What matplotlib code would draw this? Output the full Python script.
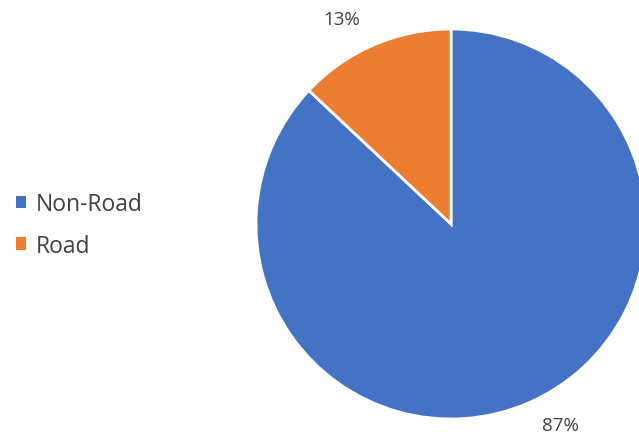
import matplotlib
matplotlib.use("Agg")
import matplotlib.pyplot as plt
from matplotlib.patches import Patch

categories = ["Non-Road", "Road"]
values = [87, 13]
colors = ["#4472C4", "#ED7D31"]
label_pos = [(0.559, -1.031), (-0.559, 1.051)]

plt.rcParams['font.family'] = ['Open Sans', 'DejaVu Sans']

W, H = 639, 435
fig = plt.figure(figsize=(W/100, H/100), dpi=100)
cx, cy, r = 451, 225, 195
ax = fig.add_axes([(cx - r)/W, (H - cy - r)/H, 2*r/W, 2*r/H])

wedges, texts, autotexts = ax.pie(values, colors=colors, startangle=90, counterclock=False,
                                  radius=1, autopct='%1.0f%%',
                                  wedgeprops=dict(edgecolor='white', linewidth=2),
                                  textprops=dict(color='#404040', fontsize=13.5))
ax.set_aspect('auto')
ax.set_xlim(-1, 1)
ax.set_ylim(-1, 1)
ax.axis('off')
for t, p in zip(autotexts, label_pos):
    t.set_position(p)
    t.set_ha('center'); t.set_va('center')
    t.set_clip_on(False)

handles = [Patch(facecolor=c, edgecolor='none') for c in colors]
fig.legend(handles, categories, loc='center left', bbox_to_anchor=(16/W, 1 - 226/H),
           frameon=False, fontsize=16.5, handlelength=0.45, handleheight=0.45,
           handletextpad=0.4, labelspacing=0.75, labelcolor='#404040',
           borderpad=0, borderaxespad=0)

fig.savefig("out.png", dpi=100)
